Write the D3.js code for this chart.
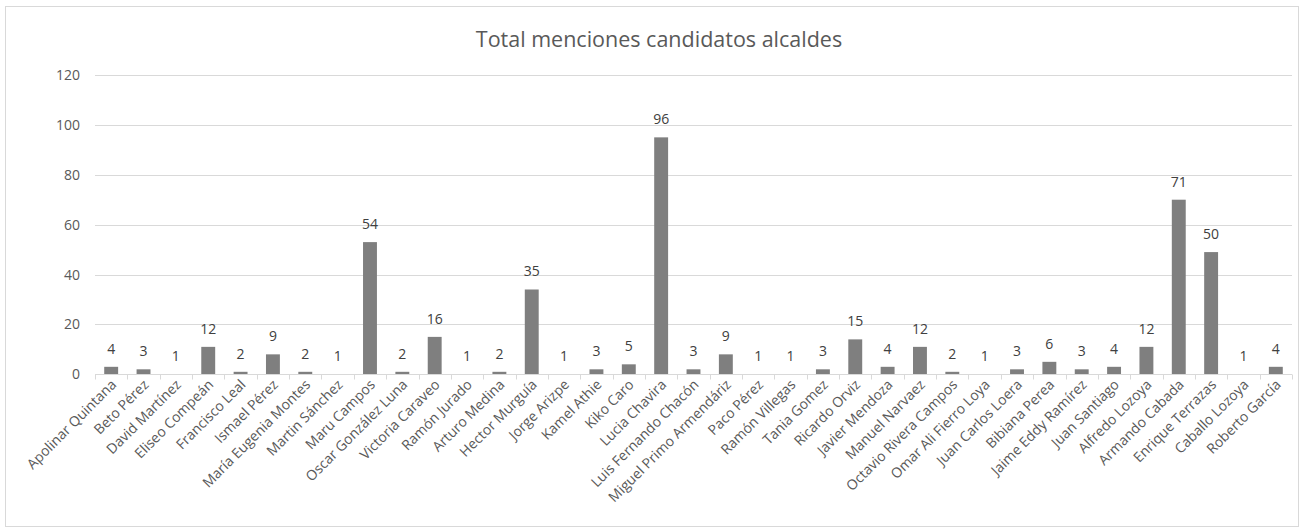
<!doctype html>
<html>
<head>
<meta charset="utf-8">
<style>
  body { margin: 0; background: #fff; }
  svg text { font-family: "Open Sans", Lato, sans-serif; }
</style>
<script src="https://d3js.org/d3.v7.min.js"></script>
</head>
<body>
<svg id="chart" width="1305" height="531"></svg>
<script>
// candidatos (eje X)
var candidatos = ["Apolinar Quintana","Beto Pérez","David Martínez","Eliseo Compeán","Francisco Leal",
  "Ismael Pérez","María Eugenia Montes","Martin Sánchez","Maru Campos","Oscar González Luna",
  "Victoria Caraveo","Ramón Jurado","Arturo Medina","Hector Murguía","Jorge Arizpe","Kamel Athie",
  "Kiko Caro","Lucia Chavira","Luis Fernando Chacón","Miguel Primo Armendáriz","Paco Pérez",
  "Ramón Villegas","Tania Gomez","Ricardo Orviz","Javier Mendoza","Manuel Narvaez",
  "Octavio Rivera Campos","Omar Ali Fierro Loya","Juan Carlos Loera","Bibiana Perea",
  "Jaime Eddy Ramírez","Juan Santiago","Alfredo Lozoya","Armando Cabada","Enrique Terrazas",
  "Caballo Lozoya","Roberto García"];
// etiquetas de datos tal como aparecen
var etiquetas = [4,3,1,12,2,9,2,1,54,2,16,1,2,35,1,3,5,96,3,9,1,1,3,15,4,12,2,1,3,6,3,4,12,71,50,1,4];
// altura de las barras
var barras = [3,2,0,11,1,8,1,0,53,1,15,0,1,34,0,2,4,95,2,8,0,0,2,14,3,11,1,0,2,5,2,3,11,70,49,0,3];
var yTicks = [0,20,40,60,80,100,120];

var svg = d3.select("#chart");

// marco
svg.append("rect")
  .attr("x", 5.5).attr("y", 6.5)
  .attr("width", 1293).attr("height", 520)
  .attr("fill", "#fff").attr("stroke", "#d9d9d9");

svg.append("text")
  .attr("x", 659).attr("y", 47)
  .attr("text-anchor", "middle")
  .attr("font-size", "21.5px")
  .attr("fill", "#595959")
  .text("Total menciones candidatos alcaldes");

var plotL = 95, plotR = 1292, plotT = 75, plotB = 374.3;

var x = d3.scaleBand().domain(candidatos).range([plotL, plotR]).paddingInner(0.57).paddingOuter(0.285);
var xb = d3.scaleBand().domain(candidatos).range([plotL, plotR]);
var y = d3.scaleLinear().domain([0, 120]).range([plotB, plotT]);

// rejilla
svg.append("g").selectAll("line")
  .data(yTicks.filter(function(d){ return d > 0; }))
  .enter().append("line")
  .attr("x1", plotL).attr("x2", plotR)
  .attr("y1", function(d){ return Math.round(y(d)) + 0.5; })
  .attr("y2", function(d){ return Math.round(y(d)) + 0.5; })
  .attr("stroke", "#d9d9d9");

// eje Y
svg.append("g").selectAll("text")
  .data(yTicks)
  .enter().append("text")
  .attr("x", 80)
  .attr("y", function(d){ return y(d) + 5; })
  .attr("text-anchor", "end")
  .attr("font-size", "14px")
  .attr("fill", "#595959")
  .text(function(d){ return d; });

// barras
svg.append("g").selectAll("rect")
  .data(barras)
  .enter().append("rect")
  .attr("x", function(d, i){ return x(candidatos[i]); })
  .attr("width", x.bandwidth())
  .attr("y", function(d){ return y(d); })
  .attr("height", function(d){ return plotB - y(d); })
  .attr("fill", "#7f7f7f");

// etiquetas de datos
svg.append("g").selectAll("text")
  .data(etiquetas)
  .enter().append("text")
  .attr("x", function(d, i){ return x(candidatos[i]) + x.bandwidth() / 2; })
  .attr("y", function(d, i){ return y(barras[i]) - 13; })
  .attr("text-anchor", "middle")
  .attr("font-size", "14px")
  .attr("fill", "#404040")
  .text(function(d){ return d; });

// eje X
var xAxis = svg.append("g").attr("transform", "translate(0," + (Math.round(plotB) + 0.5) + ")");
xAxis.append("line").attr("x1", plotL).attr("x2", plotR).attr("stroke", "#d9d9d9");
xAxis.selectAll(".tk")
  .data(candidatos.concat(["_fin"]))
  .enter().append("line")
  .attr("x1", function(d, i){ return Math.round(plotL + i * xb.step()) + 0.5; })
  .attr("x2", function(d, i){ return Math.round(plotL + i * xb.step()) + 0.5; })
  .attr("y1", 0).attr("y2", 5)
  .attr("stroke", "#d9d9d9");
xAxis.selectAll(".lbl")
  .data(candidatos)
  .enter().append("text")
  .attr("transform", function(d){
    return "translate(" + (xb(d) + xb.bandwidth() / 2 + 6) + ",11) rotate(-45)";
  })
  .attr("text-anchor", "end")
  .attr("font-size", "14px")
  .attr("fill", "#595959")
  .text(function(d){ return d; });
</script>
</body>
</html>
